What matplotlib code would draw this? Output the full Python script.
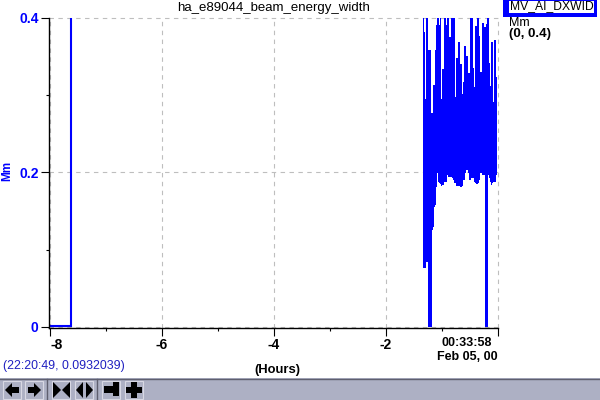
import matplotlib
matplotlib.use("Agg")
import matplotlib.pyplot as plt
from matplotlib.patches import Rectangle, Polygon

plt.rcParams['font.family'] = ['Liberation Sans', 'DejaVu Sans']

# Datos -------------------------------------------------------------
title = "ha_e89044_beam_energy_width"
first_hours = [-8.0, -7.63, -7.63]
first_vals = [0.0015, 0.0015, 0.42]

hours = [-1.336, -1.318, -1.300, -1.282, -1.265, -1.247, -1.229, -1.211, -1.193, -1.175,
         -1.157, -1.139, -1.121, -1.103, -1.085, -1.067, -1.049, -1.031, -1.013, -0.996,
         -0.978, -0.960, -0.942, -0.924, -0.906, -0.888, -0.870, -0.852, -0.834, -0.816,
         -0.798, -0.780, -0.762, -0.744, -0.726, -0.709, -0.691, -0.673, -0.655, -0.637,
         -0.619, -0.601, -0.583, -0.565, -0.547, -0.529, -0.511, -0.493, -0.475, -0.457,
         -0.439, -0.422, -0.404, -0.386, -0.368, -0.350, -0.332, -0.314, -0.296, -0.278,
         -0.260, -0.242, -0.224, -0.206, -0.188, -0.170, -0.152, -0.135, -0.117, -0.099,
         -0.081, -0.063, -0.045, -0.027, -0.009]
# Envolvente superior e inferior de la señal
upper = [0.400, 0.400, 0.382, 0.295, 0.400, 0.400, 0.359, 0.359, 0.359, 0.277,
         0.277, 0.313, 0.313, 0.359, 0.391, 0.400, 0.400, 0.391, 0.400, 0.295,
         0.334, 0.334, 0.400, 0.400, 0.391, 0.400, 0.400, 0.375, 0.375, 0.400,
         0.400, 0.400, 0.400, 0.298, 0.348, 0.348, 0.369, 0.369, 0.341, 0.341,
         0.302, 0.317, 0.364, 0.364, 0.351, 0.351, 0.329, 0.329, 0.400, 0.400,
         0.400, 0.335, 0.311, 0.390, 0.390, 0.400, 0.400, 0.377, 0.330, 0.330,
         0.394, 0.394, 0.388, 0.388, 0.392, 0.400, 0.400, 0.342, 0.312, 0.369,
         0.369, 0.291, 0.372, 0.372, 0.324]
lower = [0.329, 0.076, 0.076, 0.076, 0.084, 0.084, 0.000, 0.000, 0.000, 0.000,
         0.126, 0.129, 0.155, 0.158, 0.181, 0.199, 0.188, 0.186, 0.185, 0.183,
         0.184, 0.184, 0.188, 0.188, 0.188, 0.197, 0.194, 0.194, 0.194, 0.194,
         0.193, 0.190, 0.186, 0.186, 0.183, 0.183, 0.183, 0.183, 0.181, 0.181,
         0.183, 0.190, 0.190, 0.199, 0.203, 0.203, 0.199, 0.190, 0.190, 0.193,
         0.193, 0.193, 0.188, 0.186, 0.185, 0.185, 0.186, 0.190, 0.199, 0.199,
         0.197, 0.197, 0.197, 0.000, 0.000, 0.000, 0.197, 0.193, 0.188, 0.184,
         0.186, 0.188, 0.188, 0.188, 0.197]

x_major = [-8, -6, -4, -2, 0]
x_minor = [-7, -5, -3, -1]
x_labels = ["-8", "-6", "-4", "-2", ""]
y_major = [0, 0.2, 0.4]
y_minor = [0.1, 0.3]
y_labels = ["0", "0.2", "0.4"]

grey = "#bebebe"
band = "#adb0c4"

# Gráfica -----------------------------------------------------------
fig = plt.figure(figsize=(6, 4), dpi=100)

# capa en pixeles para la barra de botones y la leyenda
bg = fig.add_axes([0, 0, 1, 1])
bg.set_xlim(0, 600)
bg.set_ylim(400, 0)
bg.axis("off")

ax = fig.add_axes([49 / 600, 72 / 400, 448.5 / 600, 310 / 400])
ax.set_xlim(-8.018, 0)
ax.set_ylim(-0.0013, 0.4)
ax.patch.set_alpha(0)

ax.set_xticks(x_major)
ax.set_xticklabels(x_labels, fontsize=10, fontweight="bold")
ax.get_xticklabels()[0].set_ha("left")
ax.set_xticks(x_minor, minor=True)
ax.set_yticks(y_major)
ax.set_yticklabels(y_labels, fontsize=10, fontweight="bold", color="blue")
ax.set_yticks(y_minor, minor=True)
ax.tick_params(axis="both", which="major", length=5.5, width=0.8, pad=2)
ax.tick_params(axis="both", which="minor", length=2.5, width=0.8)
for side in ("top", "right"):
    ax.spines[side].set_visible(False)
ax.spines["left"].set_linewidth(1)
ax.spines["bottom"].set_linewidth(1)

ax.grid(True, which="major", color=grey, linestyle=(0, (4, 4)), linewidth=0.8)
ax.set_axisbelow(True)
for line in ax.get_xgridlines() + ax.get_ygridlines():
    line.set_clip_on(False)

ax.plot(first_hours, first_vals, color="blue", linewidth=1.5, solid_joinstyle="miter")
ax.fill_between(hours, lower, upper, step="mid", color="blue", linewidth=0, antialiased=False)

bg.text(273.5, 8, title, fontsize=9.5, ha="center", va="center")
bg.text(7, 171, "Mm", rotation=90, color="blue", fontsize=8.5, fontweight="bold",
        ha="center", va="center")
bg.text(277, 370, "(Hours)", fontsize=9.4, fontweight="bold", ha="center", va="center")
bg.text(492, 343, "00:33:58", fontsize=9, fontweight="bold", ha="right", va="center")
bg.text(497.5, 357, "Feb 05, 00", fontsize=9, fontweight="bold", ha="right", va="center")
bg.text(3, 366, "(22:20:49, 0.0932039)", fontsize=8.9, color="#2020c0", ha="left", va="center")

# Leyenda
bg.add_patch(Rectangle((503, 0), 94, 17, facecolor="blue", edgecolor="none"))
bg.add_patch(Rectangle((509, 1), 85, 12, facecolor="white", edgecolor="none"))
bg.text(510, 6.5, "MV_AI_DXWID", fontsize=8.7, ha="left", va="center")
bg.text(509, 23, "Mm", fontsize=9, ha="left", va="center")
bg.text(509, 34.5, "(0, 0.4)", fontsize=9.5, fontweight="bold", ha="left", va="center")

# Barra de botones
bg.add_patch(Rectangle((0, 378), 600, 22, facecolor=band, edgecolor="none"))
bg.plot([0, 600], [378.5, 378.5], color="#5f5f6f", linewidth=1)
for sep in (47, 97):
    bg.plot([sep, sep], [379, 400], color="#5f5f6f", linewidth=1)
for left in (3, 25, 52, 75, 102, 125):
    bg.add_patch(Rectangle((left, 381), 18, 18, facecolor=band, edgecolor="#d8d8e4", linewidth=0.8))

icons = [
    [(5, 390), (12, 383), (12, 387), (19, 387), (19, 393), (12, 393), (12, 397)],
    [(41, 390), (34, 383), (34, 387), (28, 387), (28, 393), (34, 393), (34, 397)],
    [(53, 382), (61, 390), (53, 398)],
    [(70, 382), (62, 390), (70, 398)],
    [(76, 390), (83, 382), (83, 398)],
    [(93, 390), (86, 382), (86, 398)],
    [(104, 386), (113, 386), (113, 382), (119, 382), (119, 396), (113, 396), (113, 393), (104, 393)],
    [(131, 382), (137, 382), (137, 387), (142, 387), (142, 393), (137, 393), (137, 398),
     (131, 398), (131, 393), (126, 393), (126, 387), (131, 387)],
]
for pts in icons:
    bg.add_patch(Polygon(pts, closed=True, facecolor="black", edgecolor="none"))

fig.savefig("out.png", dpi=100)
